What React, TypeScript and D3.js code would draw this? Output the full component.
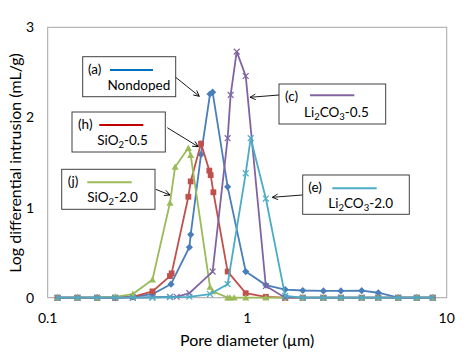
import React from "react";
import * as d3 from "d3";

const W = 476;
const H = 352;

const xTicks = [0.1, 1, 10];
const xTickLabels = ["0.1", "1", "10"];
const yTicks = [0, 1, 2, 3];
const yTickLabels = ["0", "1", "2", "3"];

const nondopedX = [0.112, 0.141, 0.177, 0.218, 0.267, 0.335, 0.415, 0.513, 0.521, 0.587, 0.651, 0.671, 0.798, 0.983, 1.24, 1.55, 1.9, 2.41, 2.95, 3.75, 4.54, 5.72, 7.08, 8.51];
const nondopedY = [0, 0, 0, 0, 0.01, 0.04, 0.15, 0.56, 0.7, 1.59, 2.26, 2.28, 1.23, 0.29, 0.14, 0.09, 0.08, 0.075, 0.075, 0.078, 0.055, 0, 0, 0];

const sio05X = [0.112, 0.141, 0.177, 0.218, 0.267, 0.335, 0.41, 0.418, 0.507, 0.521, 0.587, 0.646, 0.656, 0.677, 0.798, 0.983, 1.24, 1.55, 1.9, 2.41, 2.95, 3.75, 4.54, 5.72, 7.08, 8.51];
const sio05Y = [0, 0, 0, 0, 0.01, 0.07, 0.24, 0.27, 1.12, 1.29, 1.71, 1.41, 1.36, 1.17, 0.29, 0.05, 0.01, 0, 0, 0, 0, 0, 0, 0, 0, 0];

const sio20X = [0.112, 0.141, 0.177, 0.218, 0.267, 0.335, 0.41, 0.435, 0.507, 0.521, 0.651, 0.671, 0.798, 0.82, 0.86, 0.983, 1.24, 1.55, 1.9, 2.41, 2.95, 3.75, 4.54, 5.72, 7.08, 8.51];
const sio20Y = [0, 0, 0, 0.01, 0.04, 0.2, 1.05, 1.45, 1.66, 1.58, 0.12, 0.07, 0, 0, 0, 0, 0, 0, 0, 0, 0, 0, 0, 0, 0, 0];

const li05X = [0.112, 0.141, 0.177, 0.218, 0.267, 0.335, 0.41, 0.443, 0.513, 0.671, 0.798, 0.826, 0.886, 0.983, 1.24, 1.55, 1.9, 2.41, 2.95, 3.75, 4.54, 5.72, 7.08, 8.51];
const li05Y = [0, 0, 0, 0, 0, 0.005, 0.01, 0.01, 0.05, 0.29, 1.77, 2.25, 2.73, 2.46, 0.13, 0, 0, 0, 0, 0, 0, 0, 0, 0];

const li20X = [0.112, 0.141, 0.177, 0.218, 0.267, 0.335, 0.41, 0.513, 0.651, 0.798, 0.983, 1.041, 1.24, 1.55, 1.9, 2.41, 2.95, 3.75, 4.54, 5.72, 7.08, 8.51];
const li20Y = [0, 0, 0, 0, 0, 0, 0.005, 0.01, 0.04, 0.15, 1.38, 1.77, 1.1, 0.02, 0, 0, 0, 0, 0, 0, 0, 0];

const BLUE = "#4a7ebb";
const RED = "#c0504d";
const GREEN = "#9bbb59";
const PURPLE = "#8064a2";
const CYAN = "#4bacc6";

type Series = { xs: number[]; ys: number[]; color: string; marker: string };

const series: Series[] = [
  { xs: nondopedX, ys: nondopedY, color: BLUE, marker: "diamond" },
  { xs: sio05X, ys: sio05Y, color: RED, marker: "square" },
  { xs: sio20X, ys: sio20Y, color: GREEN, marker: "triangle" },
  { xs: li05X, ys: li05Y, color: PURPLE, marker: "x" },
  { xs: li20X, ys: li20Y, color: CYAN, marker: "x" },
];

const FONT = "Lato, 'Open Sans', sans-serif";

const left = 47.7;
const right = 446.7;
const top = 27.3;
const bottom = 297.7;

const x = d3.scaleLog().domain([0.1, 10]).range([left, right]);
const y = d3.scaleLinear().domain([0, 3]).range([bottom, top]);

function Marker({ type, cx, cy, color }: { type: string; cx: number; cy: number; color: string }) {
  if (type === "diamond") {
    const r = 3.6;
    return <path d={`M${cx},${cy - r}L${cx + r},${cy}L${cx},${cy + r}L${cx - r},${cy}Z`} fill={color} />;
  }
  if (type === "square") {
    const r = 2.9;
    return <rect x={cx - r} y={cy - r} width={2 * r} height={2 * r} fill={color} />;
  }
  if (type === "triangle") {
    const r = 3.5;
    return <path d={`M${cx},${cy - r}L${cx + r},${cy + r * 0.8}L${cx - r},${cy + r * 0.8}Z`} fill={color} />;
  }
  const r = 2.9;
  return (
    <path d={`M${cx - r},${cy - r}L${cx + r},${cy + r}M${cx - r},${cy + r}L${cx + r},${cy - r}`} stroke={color} strokeWidth={1.2} fill="none" />
  );
}

function Label({
  bx, by, bw, bh, tag, color, lx1, lx2, ly, tagX, tagY, text, textX, textY, arrow,
}: {
  bx: number; by: number; bw: number; bh: number; tag: string; color: string;
  lx1: number; lx2: number; ly: number; tagX: number; tagY: number;
  text: React.ReactNode; textX: number; textY: number; arrow: [number, number, number, number];
}) {
  return (
    <g>
      <rect x={bx} y={by} width={bw} height={bh} fill="white" stroke="#404040" strokeWidth={1} />
      <text x={tagX} y={tagY} fontFamily={FONT} fontSize={13.5} fill="#000">{tag}</text>
      <line x1={lx1} x2={lx2} y1={ly} y2={ly} stroke={color} strokeWidth={2} />
      <text x={textX} y={textY} fontFamily={FONT} fontSize={13.5} fill="#000">{text}</text>
      <line x1={arrow[0]} y1={arrow[1]} x2={arrow[2]} y2={arrow[3]} stroke="#000" strokeWidth={0.9} markerEnd="url(#arr)" />
    </g>
  );
}

function Sub({ base, sub, rest }: { base: string; sub: string; rest: React.ReactNode }) {
  return (
    <>
      {base}
      <tspan fontSize={9.5} dy={3}>{sub}</tspan>
      <tspan dy={-3}>{rest}</tspan>
    </>
  );
}

export default function App() {
  const line = d3
    .line<[number, number]>()
    .x((d) => x(d[0]))
    .y((d) => y(d[1]));

  return (
    <svg width={W} height={H} style={{ position: "absolute", left: 0, top: 0, background: "#fff" }}>
      <defs>
        <marker id="arr" viewBox="0 0 10 10" refX={9} refY={5} markerWidth={7} markerHeight={7} orient="auto" markerUnits="userSpaceOnUse">
          <path d="M1,1L9,5L1,9" fill="none" stroke="#000" strokeWidth={1.2} />
        </marker>
      </defs>
      <rect x={0} y={0} width={W} height={H} fill="#fff" />
      <rect x={left} y={top} width={right - left} height={bottom - top} fill="none" stroke="#a6a6a6" strokeWidth={1} />

      {yTicks.map((t, i) => (
        <text key={t} x={34} y={y(t) + 5} textAnchor="end" fontFamily={FONT} fontSize={14} fill="#000">
          {yTickLabels[i]}
        </text>
      ))}
      {xTicks.map((t, i) => (
        <text key={t} x={x(t)} y={323} textAnchor="middle" fontFamily={FONT} fontSize={14} fill="#000">
          {xTickLabels[i]}
        </text>
      ))}

      <text x={x(1)} y={346} textAnchor="middle" fontFamily={FONT} fontSize={16} fill="#000">
        Pore diameter (µm)
      </text>
      <text transform={`translate(21,163) rotate(-90)`} textAnchor="middle" fontFamily={FONT} fontSize={16} fill="#000">
        Log differential intrusion (mL/g)
      </text>

      {series.map((s, si) => {
        const pts: [number, number][] = s.xs.map((v, i) => [v, s.ys[i]]);
        return (
          <g key={si}>
            <path d={line(pts) || ""} fill="none" stroke={s.color} strokeWidth={1.8} />
            {pts.map((p, i) => (
              <Marker key={i} type={s.marker} cx={x(p[0])} cy={y(p[1])} color={s.color} />
            ))}
          </g>
        );
      })}

      <Label bx={82.7} by={56.7} bw={93} bh={40} tag="(a)" color="#0070c0" lx1={110} lx2={153} ly={70}
        tagX={88} tagY={74} text="Nondoped" textX={107.5} textY={90} arrow={[175.7, 77.3, 199.3, 96.3]} />
      <Label bx={279} by={84} bw={106.7} bh={40} tag="(c)" color={PURPLE} lx1={310} lx2={354.3} ly={95.3}
        tagX={285} tagY={100.5} text={<Sub base="Li" sub="2" rest={<><tspan>CO</tspan><tspan fontSize={9.5} dy={3}>3</tspan><tspan dy={-3}>-0.5</tspan></>} />}
        textX={304} textY={117} arrow={[279, 95, 250, 97.3]} />
      <Label bx={72} by={112} bw={93.3} bh={40} tag="(h)" color="#c00000" lx1={99.3} lx2={143.3} ly={125}
        tagX={78} tagY={128.5} text={<Sub base="SiO" sub="2" rest="-0.5" />}
        textX={97.3} textY={145} arrow={[167.3, 127.7, 198.3, 146.7]} />
      <Label bx={61.7} by={169.3} bw={93.3} bh={40} tag="(j)" color={GREEN} lx1={87.3} lx2={131.7} ly={182.3}
        tagX={67.7} tagY={186} text={<Sub base="SiO" sub="2" rest="-2.0" />}
        textX={87.3} textY={202} arrow={[155.7, 189.3, 170, 195]} />
      <Label bx={302.7} by={175} bw={106.6} bh={39.3} tag="(e)" color={CYAN} lx1={332.3} lx2={376.7} ly={188.3}
        tagX={308.3} tagY={191.5} text={<Sub base="Li" sub="2" rest={<><tspan>CO</tspan><tspan fontSize={9.5} dy={3}>3</tspan><tspan dy={-3}>-2.0</tspan></>} />}
        textX={328.3} textY={207.5} arrow={[302.3, 195, 272.3, 197.3]} />
    </svg>
  );
}
